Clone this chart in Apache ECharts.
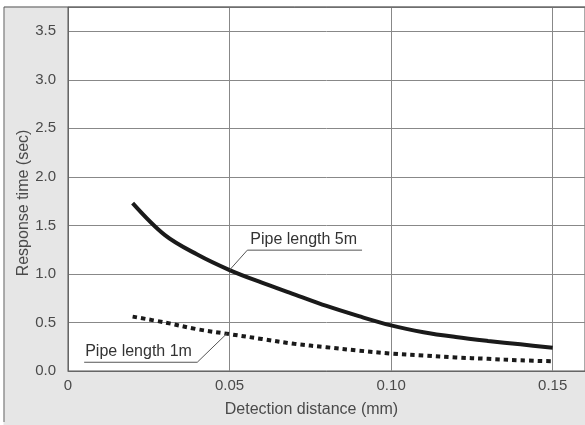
<!DOCTYPE html>
<html>
<head>
<meta charset="utf-8">
<script src="https://cdn.jsdelivr.net/npm/echarts@6/dist/echarts.min.js"></script>
<style>html,body{margin:0;padding:0;background:#fff}#c{width:585px;height:425px}</style>
</head>
<body>
<div id="c"></div>
<script>
// Data
const distance5m = [0.02, 0.03, 0.04, 0.05, 0.06, 0.07, 0.08, 0.09, 0.10, 0.11, 0.12, 0.13, 0.14, 0.15];
const response5m = [1.73, 1.40, 1.20, 1.04, 0.91, 0.79, 0.67, 0.565, 0.47, 0.40, 0.35, 0.31, 0.275, 0.24];
const distance1m = [0.02, 0.03, 0.04, 0.05, 0.06, 0.07, 0.08, 0.09, 0.10, 0.11, 0.12, 0.13, 0.14, 0.15];
const response1m = [0.56, 0.50, 0.43, 0.38, 0.33, 0.28, 0.245, 0.21, 0.18, 0.16, 0.14, 0.125, 0.11, 0.10];
const seriesNames = ['Pipe length 5m', 'Pipe length 1m'];
const xTickLabels = ['0', '0.05', '0.10', '0.15'];
const yTickLabels = ['0.0', '0.5', '1.0', '1.5', '2.0', '2.5', '3.0', '3.5'];
// annotation leader lines in data coordinates: anchor on curve, elbow, end of underline
const anno5m = [[0.05, 1.04], [0.0555, 1.245], [0.0910, 1.245]];
const anno1m = [[0.0493, 0.39], [0.0400, 0.09], [0.0050, 0.09]];

const chart = echarts.init(document.getElementById('c'), null, {renderer: 'canvas'});
const textColor = '#4a4a4a';
const font = 'Liberation Sans, Arial, sans-serif';

function pairs(xs, ys) { return xs.map((x, i) => [x, ys[i]]); }

chart.setOption({
  backgroundColor: '#e6e6e6',
  animation: false,
  grid: {
    left: 68, top: 7, right: -3, bottom: 54,
    show: true, backgroundColor: '#ffffff', borderColor: '#555', borderWidth: 1
  },
  xAxis: {
    type: 'value', min: 0, max: 0.16, interval: 0.05,
    name: 'Detection distance (mm)', nameLocation: 'middle', nameGap: 31, nameMoveOverlap: false,
    nameTextStyle: {fontSize: 16, color: textColor, fontFamily: font, padding: [0, 30, 0, 0]},
    axisLine: {show: true, lineStyle: {color: '#666', width: 1}},
    axisTick: {show: false},
    axisLabel: {
      fontSize: 15, color: textColor, fontFamily: font, margin: 7, showMaxLabel: false,
      formatter: v => { const i = Math.round(v / 0.05); return Math.abs(v - i * 0.05) < 1e-9 && xTickLabels[i] !== undefined ? xTickLabels[i] : ''; }
    },
    splitLine: {show: true, lineStyle: {color: '#888', width: 1}}
  },
  yAxis: {
    type: 'value', min: 0, max: 3.75, interval: 0.5,
    name: 'Response time (sec)', nameLocation: 'middle', nameGap: 36, nameMoveOverlap: false,
    nameTextStyle: {fontSize: 16, color: textColor, fontFamily: font, padding: [0, 28, 0, 0]},
    axisLine: {show: true, lineStyle: {color: '#666', width: 1}},
    axisTick: {show: false},
    axisLabel: {
      fontSize: 15, color: textColor, fontFamily: font, margin: 12, showMaxLabel: false,
      formatter: v => { const i = Math.round(v / 0.5); return Math.abs(v - i * 0.5) < 1e-9 && yTickLabels[i] !== undefined ? yTickLabels[i] : ''; }
    },
    splitLine: {show: true, lineStyle: {color: '#888', width: 1}}
  },
  series: [
    {
      name: seriesNames[0], type: 'line', smooth: 0.35, showSymbol: false, symbol: 'none',
      data: pairs(distance5m, response5m),
      lineStyle: {color: '#1a1a1a', width: 4}, z: 5
    },
    {
      name: seriesNames[1], type: 'line', smooth: 0.35, showSymbol: false, symbol: 'none',
      data: pairs(distance1m, response1m),
      lineStyle: {color: '#1a1a1a', width: 4, type: [4.5, 4], cap: 'butt'}, z: 5
    }
  ]
});

function px(p) { return chart.convertToPixel({gridIndex: 0}, p); }
const a5 = anno5m.map(px), a1 = anno1m.map(px);
chart.setOption({
  graphic: [
    {type: 'rect', shape: {x: 0, y: 0, width: 585, height: 6.5}, style: {fill: '#fff'}, z: 100, silent: true},
    {type: 'rect', shape: {x: 0, y: 0, width: 3.5, height: 425}, style: {fill: '#fff'}, z: 100, silent: true},
    {type: 'line', shape: {x1: 4, y1: 7, x2: 4, y2: 422}, style: {stroke: '#666', lineWidth: 1}, z: 100, silent: true},
    {type: 'line', shape: {x1: 4, y1: 7, x2: 585, y2: 7}, style: {stroke: '#555', lineWidth: 1}, z: 100, silent: true},
    {type: 'polyline', shape: {points: a5}, style: {stroke: '#555', lineWidth: 1, fill: null}, z: 50, silent: true},
    {type: 'polyline', shape: {points: a1}, style: {stroke: '#555', lineWidth: 1, fill: null}, z: 50, silent: true},
    {type: 'text', x: a5[1][0] + 3, y: a5[1][1] - 3, style: {text: seriesNames[0], fill: '#333', font: '16px ' + font, textAlign: 'left', textVerticalAlign: 'bottom'}, z: 50, silent: true},
    {type: 'text', x: a1[2][0] + 1, y: a1[2][1] - 3, style: {text: seriesNames[1], fill: '#333', font: '16px ' + font, textAlign: 'left', textVerticalAlign: 'bottom'}, z: 50, silent: true}
  ]
});
</script>
</body>
</html>
